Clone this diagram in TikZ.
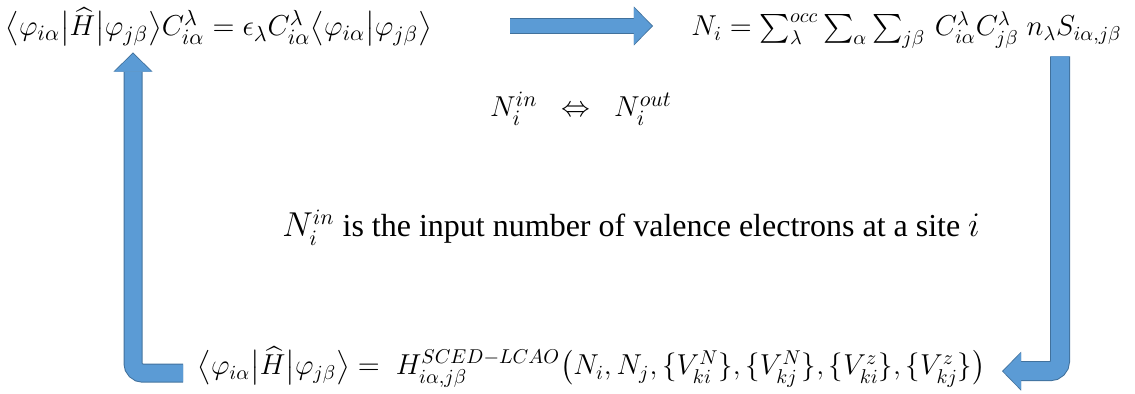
\documentclass[tikz,border=0pt]{standalone}
\usepackage{amsmath}
\usepackage{fontspec}
\setmainfont{Liberation Serif}
\usepackage{tikz}
\usetikzlibrary{arrows.meta,calc}
\definecolor{arrfill}{HTML}{5B9BD5}
\definecolor{arrline}{HTML}{41719C}

\begin{document}
\begin{tikzpicture}[x=0.5pt,y=-0.5pt,
eq/.style={inner sep=0pt,font=\fontsize{#1}{18}\selectfont},eq/.default=15,
blockarr/.style={draw=arrfill,line width=#1,rounded corners=5pt,shorten >=0.6pt,
  -{Triangle[length=9pt,width=18.5pt,line width=0pt]},
  preaction={draw=arrline,line width=#1+1pt,shorten >=0pt,-{Triangle[length=9.6pt,width=19.6pt,line width=0pt]}}}]
\useasboundingbox (0,0) rectangle (1135,394);
\node[eq=15.5,anchor=base west](eqS) at (5,36)
  {$\bigl\langle\varphi_{i\alpha}\big|\widehat{H}\big|\varphi_{j\beta}\bigr\rangle C^{\lambda}_{i\alpha}=\epsilon_\lambda C^{\lambda}_{i\alpha}\bigl\langle\varphi_{i\alpha}\big|\varphi_{j\beta}\bigr\rangle$};
\node[eq=14.3,anchor=base east](eqN) at (1122,36)
  {$N_i=\sum_{\lambda}^{occ}\sum_{\alpha}\sum_{j\beta}\,C^{\lambda}_{i\alpha}C^{\lambda}_{j\beta}\;n_\lambda S_{i\alpha,j\beta}$};
\node[eq,anchor=base](eqIO) at (581,117) {$N_i^{in}\;\;\Leftrightarrow\;\;N_i^{out}$};
\node[eq=16,anchor=base](txt) at (631,237) {$N_i^{in}$ is the input number of valence electrons at a site $i$};
\node[eq=14.8,anchor=base west](eqH) at (197,375)
  {$\bigl\langle\varphi_{i\alpha}\big|\widehat{H}\big|\varphi_{j\beta}\bigr\rangle=\;H^{SCED-LCAO}_{i\alpha,j\beta}\bigl(N_i,N_j,\{V^N_{ki}\},\{V^N_{kj}\},\{V^z_{ki}\},\{V^z_{kj}\}\bigr)$};
\coordinate (rstart) at ([xshift=39pt,yshift=0.5pt]eqS.east);
\coordinate (rend) at ([xshift=-19pt]eqN.west);
\coordinate (dtop) at ([xshift=-31pt,yshift=-4pt]eqN.south east);
\coordinate (dend) at ([xshift=-60pt]eqN.south east);
\coordinate (utop) at ([xshift=64pt,yshift=-3pt]eqS.south west);
\draw[blockarr=7pt] (rstart) -- (rstart -| rend);
\draw[blockarr=9pt] (dtop) |- ([yshift=-2pt]dend |- eqH.east);
\draw[blockarr=8.5pt] ([xshift=-7pt,yshift=-3pt]eqH.west) -| (utop);
\end{tikzpicture}
\end{document}
